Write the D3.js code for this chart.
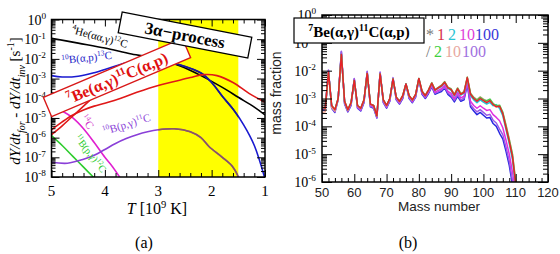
<!DOCTYPE html>
<html lang="en">
<head>
<meta charset="UTF-8">
<title>Reaction rates and mass fractions</title>
<script src="https://d3js.org/d3.v7.min.js"></script>
<style>
  body { margin: 0; background: #fff; }
  svg { display: block; }
</style>
</head>
<body>
<svg width="560" height="254"></svg>
<script>
const serif = "'Liberation Serif', 'Times New Roman', serif";
const sans = "'Liberation Sans', Arial, sans-serif";

// ---------- panel (a): dY/dt vs temperature (log10 of rate) ----------
const tBlack = [5, 4.5, 4, 3.5, 3, 2.6, 2.2, 1.8, 1.5, 1.2, 1.0];
const rBlack = [-0.95, -1.2, -1.45, -1.75, -2.0, -2.35, -2.85, -3.45, -3.95, -4.45, -4.85];
const tBlue = [5, 4.8, 4.5, 4.2, 3.9, 3.6, 3.3, 3.0, 2.6, 2.2, 2.0, 1.8, 1.6, 1.4, 1.2, 1.0];
const rBlue = [-2.85, -2.92, -2.88, -2.7, -2.45, -2.2, -1.97, -2.05, -2.3, -2.72, -3.2, -3.9, -4.55, -5.35, -6.4, -8.1];
const tRed = [5, 4.8, 4.6, 4.4, 4.2, 4.0, 3.7, 3.4, 3.0, 2.7, 2.4, 2.15, 1.9, 1.6, 1.3, 1.0];
const rRed = [-5.6, -5.2, -4.85, -4.6, -4.4, -4.25, -4.0, -3.7, -3.35, -3.15, -2.95, -2.8, -2.85, -3.2, -3.75, -4.2];
const tRed2 = [5, 4.8, 4.6, 4.4, 4.2, 4.0, 3.8];
const rRed2 = [-5.85, -5.4, -4.9, -4.4, -3.9, -3.4, -2.9];
const tMagenta = [5, 4.8, 4.6, 4.4, 4.2, 4.0, 3.85, 3.7];
const rMagenta = [-4.4, -4.65, -5.0, -5.55, -6.25, -7.0, -7.5, -8.1];
const tPurple = [5, 4.7, 4.4, 4.2, 4.0, 3.8, 3.6, 3.4, 3.2, 3.0, 2.7, 2.4, 2.2, 2.05, 1.8, 1.6, 1.48];
const rPurple = [-7.25, -7.3, -7.1, -6.9, -6.6, -6.3, -6.05, -5.85, -5.7, -5.6, -5.55, -5.7, -6.0, -6.45, -7.0, -7.5, -8.1];
const tGreen = [5, 4.8, 4.6, 4.4, 4.2];
const rGreen = [-5.9, -6.4, -6.95, -7.5, -8.05];
const tempTicks = [5, 4, 3, 2, 1];
const decadesA = [0, -1, -2, -3, -4, -5, -6, -7, -8];

// ---------- panel (b): mass fraction vs mass number (log10) ----------
const massNumbers = [50, 51, 52, 53, 54, 55, 56, 57, 58, 59, 60, 61, 62, 63, 64, 65, 66, 67, 68, 69,
  70, 71, 72, 73, 74, 75, 76, 77, 78, 79, 80, 81, 82, 83, 84, 85, 86, 87, 88, 89,
  90, 91, 92, 93, 94, 95, 96, 97, 98, 99, 100, 101, 102, 103, 104, 105, 106, 107, 108, 109, 110];
const xTimes1 = [-3.30, -3.35, -2.05, -3.25, -3.40, -3.00, -1.42, -3.10, -3.40, -3.15, -2.35, -3.25, -3.35, -3.05, -2.10, -3.20, -3.25, -3.62, -2.12, -3.05,
  -3.25, -3.00, -2.30, -2.95, -3.10, -2.90, -2.48, -2.90, -3.05, -2.85, -2.28, -2.75, -2.90, -2.70, -2.45, -2.70, -2.62, -2.55, -2.42, -2.62,
  -2.68, -2.88, -2.65, -2.85, -2.78, -2.25, -2.85, -3.00, -3.10, -3.00, -3.08, -3.15, -3.08, -3.22, -3.30, -3.28, -3.55, -4.05, -4.55, -5.10, -6.10];
const xTimes2 = [-3.32, -3.36, -2.05, -3.27, -3.41, -3.00, -1.41, -3.11, -3.41, -3.16, -2.35, -3.26, -3.36, -3.06, -2.10, -3.21, -3.26, -3.63, -2.12, -3.06,
  -3.26, -3.01, -2.30, -2.96, -3.11, -2.91, -2.48, -2.91, -3.06, -2.86, -2.28, -2.76, -2.91, -2.71, -2.46, -2.71, -2.64, -2.57, -2.44, -2.64,
  -2.71, -2.91, -2.68, -2.88, -2.81, -2.27, -2.90, -3.05, -3.15, -3.05, -3.13, -3.20, -3.14, -3.26, -3.22, -3.36, -3.62, -4.12, -4.63, -5.20, -6.20];
const xTimes10 = [-3.35, -3.38, -2.03, -3.30, -3.45, -3.02, -1.38, -3.15, -3.44, -3.20, -2.33, -3.30, -3.40, -3.10, -2.08, -3.25, -3.30, -3.66, -2.10, -3.10,
  -3.30, -3.05, -2.29, -3.00, -3.15, -2.95, -2.49, -2.95, -3.10, -2.90, -2.30, -2.80, -2.95, -2.76, -2.52, -2.78, -2.71, -2.65, -2.52, -2.74,
  -2.82, -3.00, -2.78, -2.98, -2.92, -2.38, -3.10, -3.25, -3.35, -3.26, -3.35, -3.43, -3.40, -3.58, -3.68, -3.80, -4.05, -4.50, -5.00, -5.65, -6.40];
const xTimes100 = [-3.40, -3.42, -2.00, -3.35, -3.50, -3.05, -1.32, -3.20, -3.48, -3.25, -2.30, -3.35, -3.45, -3.15, -2.05, -3.30, -3.35, -3.70, -2.08, -3.15,
  -3.35, -3.10, -2.28, -3.05, -3.20, -3.00, -2.50, -3.00, -3.15, -2.95, -2.32, -2.85, -3.00, -2.82, -2.58, -2.85, -2.80, -2.75, -2.62, -2.85,
  -2.95, -3.12, -2.92, -3.10, -3.05, -2.50, -3.30, -3.45, -3.58, -3.50, -3.60, -3.70, -3.68, -3.90, -4.00, -4.25, -4.45, -4.90, -5.40, -6.10, -6.60];
const xOver2 = [-3.31, -3.35, -2.05, -3.25, -3.40, -3.00, -1.42, -3.10, -3.40, -3.15, -2.35, -3.25, -3.35, -3.05, -2.10, -3.20, -3.25, -3.62, -2.12, -3.05,
  -3.25, -3.00, -2.30, -2.95, -3.10, -2.90, -2.48, -2.90, -3.05, -2.85, -2.28, -2.74, -2.89, -2.69, -2.44, -2.69, -2.61, -2.53, -2.40, -2.60,
  -2.66, -2.86, -2.63, -2.83, -2.76, -2.24, -2.82, -2.97, -3.06, -2.96, -3.04, -3.08, -3.02, -3.18, -3.26, -3.24, -3.50, -3.98, -4.48, -5.02, -6.00];
const xOver10 = [-3.50, -3.48, -2.10, -3.32, -3.45, -3.02, -1.45, -3.12, -3.42, -3.17, -2.36, -3.27, -3.36, -3.06, -2.11, -3.21, -3.26, -3.63, -2.13, -3.06,
  -3.26, -3.01, -2.31, -2.96, -3.11, -2.91, -2.49, -2.91, -3.06, -2.86, -2.29, -2.74, -2.88, -2.68, -2.43, -2.68, -2.60, -2.52, -2.39, -2.59,
  -2.65, -2.85, -2.62, -2.82, -2.75, -2.23, -2.81, -2.95, -3.04, -2.94, -3.02, -3.10, -3.05, -3.20, -3.30, -3.26, -3.50, -3.95, -4.45, -5.00, -5.95];
const xOver100 = [-3.38, -3.40, -1.98, -3.33, -3.48, -3.03, -1.30, -3.18, -3.46, -3.23, -2.28, -3.33, -3.43, -3.13, -2.02, -3.28, -3.33, -3.68, -2.05, -3.13,
  -3.33, -3.08, -2.25, -3.03, -3.18, -2.98, -2.47, -2.98, -3.13, -2.93, -2.29, -2.82, -2.97, -2.79, -2.55, -2.81, -2.76, -2.70, -2.58, -2.80,
  -2.90, -3.07, -2.87, -3.05, -2.99, -2.44, -3.22, -3.37, -3.48, -3.40, -3.50, -3.60, -3.57, -3.78, -3.88, -4.10, -4.30, -4.75, -5.25, -5.95, -6.50];
const massTicks = [50, 60, 70, 80, 90, 100, 110, 120];
const decadesB = [0, -1, -2, -3, -4, -5, -6];

const svg = d3.select("svg");

// text with super/subscripts: parts = [[string, "sup"|"sub"|"", "i"?], ...]
function rich(sel, parts, size) {
  let cur = 0;
  parts.forEach(([s, kind, style]) => {
    const off = kind === "sup" ? -0.4 * size : kind === "sub" ? 0.3 * size : 0;
    sel.append("tspan")
      .attr("dy", off - cur)
      .attr("font-size", kind ? size * 0.66 : size)
      .attr("font-style", style === "i" ? "italic" : null)
      .text(s);
    cur = off;
  });
  return sel;
}

function tickAxis(g, axis, transform) {
  g.append("g").attr("transform", transform).call(axis)
    .call(a => a.select(".domain").remove())
    .call(a => a.selectAll("line").attr("stroke", "#000").attr("stroke-width", 1));
}

// ================= panel (a) =================
const xA = d3.scaleLinear().domain([5, 1]).range([51.5, 265]);
const yA = d3.scaleLog().domain([1e-8, 1]).range([177, 19.5]);
const gA = svg.append("g");

const defs = svg.append("defs");
defs.append("clipPath").attr("id", "clipA").append("rect")
  .attr("x", xA(5)).attr("y", yA(1)).attr("width", xA(1) - xA(5)).attr("height", yA(1e-8) - yA(1));
defs.append("clipPath").attr("id", "clipYellow").append("rect")
  .attr("x", xA(3)).attr("y", yA(1)).attr("width", xA(1.5) - xA(3)).attr("height", yA(1e-8) - yA(1));
defs.append("clipPath").attr("id", "clipB").append("rect")
  .attr("x", 322).attr("y", 15).attr("width", 226).attr("height", 167);

gA.append("rect")
  .attr("x", xA(3)).attr("y", yA(1))
  .attr("width", xA(1.5) - xA(3)).attr("height", yA(1e-8) - yA(1))
  .attr("fill", "#ffff00");

const lineA = d3.line()
  .x(d => xA(d[0]))
  .y(d => yA(Math.pow(10, d[1])))
  .curve(d3.curveCatmullRom.alpha(0.5));

const curvesA = [
  { t: tGreen, r: rGreen, color: "#2ecc2e" },
  { t: tMagenta, r: rMagenta, color: "#e020d0" },
  { t: tPurple, r: rPurple, color: "#8a3fd8", inYellow: "#8c5a5a" },
  { t: tRed2, r: rRed2, color: "#e01818" },
  { t: tBlack, r: rBlack, color: "#000" },
  { t: tBlue, r: rBlue, color: "#1a1ad0", inYellow: "#1a1a90" },
  { t: tRed, r: rRed, color: "#e01818" }
];
const plotA = gA.append("g").attr("clip-path", "url(#clipA)");
curvesA.forEach(c => {
  const pts = d3.zip(c.t, c.r);
  plotA.append("path").attr("d", lineA(pts))
    .attr("fill", "none").attr("stroke", c.color).attr("stroke-width", 1.6);
  if (c.inYellow) {
    plotA.append("g").attr("clip-path", "url(#clipYellow)")
      .append("path").attr("d", lineA(pts))
      .attr("fill", "none").attr("stroke", c.inYellow).attr("stroke-width", 1.6);
  }
});

// curve labels
rich(gA.append("text").attr("transform", "translate(71,33) rotate(15)")
  .attr("font-family", serif).attr("fill", "#000"),
  [["4", "sup"], ["He(αα,γ)", ""], ["12", "sup"], ["C", ""]], 11);
rich(gA.append("text").attr("transform", "translate(62,64) rotate(-6)")
  .attr("font-family", serif).attr("fill", "#2424c8"),
  [["10", "sup"], ["B(α,p)", ""], ["13", "sup"], ["C", ""]], 11);
rich(gA.append("text").attr("transform", "translate(104,135) rotate(-17)")
  .attr("font-family", serif).attr("fill", "#8a3fd8"),
  [["10", "sup"], ["B(p,γ)", ""], ["11", "sup"], ["C", ""]], 11);
rich(gA.append("text").attr("transform", "translate(80,118) rotate(55)")
  .attr("font-family", serif).attr("fill", "#d030c8"),
  [["14", "sup"], ["C", ""]], 11);
rich(gA.append("text").attr("transform", "translate(74,138) rotate(52)")
  .attr("font-family", serif).attr("fill", "#2ecc2e"),
  [["11", "sup"], ["B(p,γ)", ""], ["12", "sup"], ["C", ""]], 10);

// frame and ticks
gA.append("rect").attr("x", xA(5)).attr("y", yA(1))
  .attr("width", xA(1) - xA(5)).attr("height", yA(1e-8) - yA(1))
  .attr("fill", "none").attr("stroke", "#000").attr("stroke-width", 1.5);
const tempMinor = d3.range(1, 5.001, 0.2).filter(v => Math.abs(v - Math.round(v)) > 0.01);
tickAxis(gA, d3.axisBottom(xA).tickValues(tempTicks).tickSize(-7).tickFormat(""), `translate(0,${yA(1e-8)})`);
tickAxis(gA, d3.axisBottom(xA).tickValues(tempMinor).tickSize(-4).tickFormat(""), `translate(0,${yA(1e-8)})`);
tickAxis(gA, d3.axisTop(xA).tickValues(tempTicks).tickSize(-7).tickFormat(""), `translate(0,${yA(1)})`);
tickAxis(gA, d3.axisTop(xA).tickValues(tempMinor).tickSize(-4).tickFormat(""), `translate(0,${yA(1)})`);
const minorA = yA.ticks().filter(v => Math.abs(Math.log10(v) - Math.round(Math.log10(v))) > 1e-6);
const majorA = decadesA.map(k => Math.pow(10, k));
tickAxis(gA, d3.axisLeft(yA).tickValues(majorA).tickSize(-8).tickFormat(""), `translate(${xA(5)},0)`);
tickAxis(gA, d3.axisLeft(yA).tickValues(minorA).tickSize(-4).tickFormat(""), `translate(${xA(5)},0)`);
tickAxis(gA, d3.axisRight(yA).tickValues(majorA).tickSize(-8).tickFormat(""), `translate(${xA(1)},0)`);
tickAxis(gA, d3.axisRight(yA).tickValues(minorA).tickSize(-4).tickFormat(""), `translate(${xA(1)},0)`);

gA.selectAll(".tlab").data(tempTicks).join("text")
  .attr("x", d => xA(d)).attr("y", 196)
  .attr("text-anchor", "middle").attr("font-family", serif).attr("font-size", 15)
  .text(d => d);
decadesA.forEach(k => {
  rich(gA.append("text").attr("x", 46).attr("y", yA(Math.pow(10, k)) + 5)
    .attr("text-anchor", "end").attr("font-family", serif),
    [["10", ""], [String(k), "sup"]], 14);
});

// axis titles
rich(gA.append("text").attr("x", 157).attr("y", 214).attr("text-anchor", "middle")
  .attr("font-family", serif),
  [["T", "", "i"], [" [10", ""], ["9", "sup"], [" K]", ""]], 16);
rich(gA.append("text").attr("transform", "translate(20,101) rotate(-90)")
  .attr("text-anchor", "middle").attr("font-family", serif),
  [["dY/dt", "", "i"], ["for", "sub", "i"], [" - dY/dt", "", "i"], ["inv", "sub", "i"], [" [s", ""], ["-1", "sup"], ["]", ""]], 15);
gA.append("text").attr("x", 144).attr("y", 248).attr("text-anchor", "middle")
  .attr("font-family", serif).attr("font-size", 16).text("(a)");

// annotation boxes
const boxRed = gA.append("g").attr("transform", "translate(117,77.5) rotate(-23)");
boxRed.append("rect").attr("x", -75.5).attr("y", -10.5).attr("width", 151).attr("height", 21)
  .attr("fill", "#fff").attr("stroke", "#d81818").attr("stroke-width", 1.4);
rich(boxRed.append("text").attr("text-anchor", "middle").attr("y", 6)
  .attr("font-family", serif).attr("font-weight", "bold").attr("fill", "#e01010"),
  [["7", "sup"], ["Be(α,γ)", ""], ["11", "sup"], ["C(α,p)", ""]], 16);

const box3a = gA.append("g").attr("transform", "translate(185,35) rotate(11)");
box3a.append("rect").attr("x", -66).attr("y", -10.5).attr("width", 132).attr("height", 21)
  .attr("fill", "#fff").attr("stroke", "#000").attr("stroke-width", 1.3);
box3a.append("text").attr("text-anchor", "middle").attr("y", 6)
  .attr("font-family", serif).attr("font-weight", "bold").attr("font-size", 17)
  .text("3α−process");

// ================= panel (b) =================
const xB = d3.scaleLinear().domain([50, 120]).range([322, 548]);
const yB = d3.scaleLog().domain([1e-6, 1]).range([182, 15]);
const gB = svg.append("g");

const lineB = d3.line()
  .x(d => xB(d[0]))
  .y(d => yB(Math.pow(10, d[1])));

const seriesB = [
  { v: xTimes100, color: "#2828e0" },
  { v: xOver100, color: "#9a5ae6" },
  { v: xTimes10, color: "#e030e0" },
  { v: xTimes2, color: "#20c8d8" },
  { v: xOver10, color: "#e8a090" },
  { v: xOver2, color: "#4cc84c" },
  { v: xTimes1, color: "#e8202a" }
];
const plotB = gB.append("g").attr("clip-path", "url(#clipB)");
seriesB.forEach(s => {
  plotB.append("path").attr("d", lineB(d3.zip(massNumbers, s.v)))
    .attr("fill", "none").attr("stroke", s.color).attr("stroke-width", 1.5)
    .attr("stroke-linejoin", "round");
});

gB.append("rect").attr("x", 322).attr("y", 15).attr("width", 226).attr("height", 167)
  .attr("fill", "none").attr("stroke", "#000").attr("stroke-width", 1.5);
const massMinor = d3.range(52, 120, 2).filter(v => v % 10 !== 0);
tickAxis(gB, d3.axisBottom(xB).tickValues(massTicks).tickSize(-8).tickFormat(""), "translate(0,182)");
tickAxis(gB, d3.axisBottom(xB).tickValues(massMinor).tickSize(-4).tickFormat(""), "translate(0,182)");
tickAxis(gB, d3.axisTop(xB).tickValues(massTicks).tickSize(-8).tickFormat(""), "translate(0,15)");
tickAxis(gB, d3.axisTop(xB).tickValues(massMinor).tickSize(-4).tickFormat(""), "translate(0,15)");
const minorB = yB.ticks().filter(v => Math.abs(Math.log10(v) - Math.round(Math.log10(v))) > 1e-6);
const majorB = decadesB.map(k => Math.pow(10, k));
tickAxis(gB, d3.axisLeft(yB).tickValues(majorB).tickSize(-10).tickFormat(""), "translate(322,0)");
tickAxis(gB, d3.axisLeft(yB).tickValues(minorB).tickSize(-5).tickFormat(""), "translate(322,0)");
tickAxis(gB, d3.axisRight(yB).tickValues(majorB).tickSize(-10).tickFormat(""), "translate(548,0)");
tickAxis(gB, d3.axisRight(yB).tickValues(minorB).tickSize(-5).tickFormat(""), "translate(548,0)");

gB.selectAll(".mlab").data(massTicks).join("text")
  .attr("x", d => xB(d)).attr("y", 197)
  .attr("text-anchor", "middle").attr("font-family", sans).attr("font-size", 13)
  .attr("fill", "#222").text(d => d);
decadesB.forEach(k => {
  rich(gB.append("text").attr("x", 316).attr("y", yB(Math.pow(10, k)) + 5)
    .attr("text-anchor", "end").attr("font-family", serif),
    [["10", ""], [String(k), "sup"]], 14);
});
gB.append("text").attr("x", 439).attr("y", 211).attr("text-anchor", "middle")
  .attr("font-family", sans).attr("font-size", 13.5).attr("fill", "#222").text("Mass number");
gB.append("text").attr("transform", "translate(281,93) rotate(-90)").attr("text-anchor", "middle")
  .attr("font-family", sans).attr("font-size", 14).attr("fill", "#222").text("mass fraction");
gB.append("text").attr("x", 408).attr("y", 248).attr("text-anchor", "middle")
  .attr("font-family", serif).attr("font-size", 16).text("(b)");

// label box
gB.append("rect").attr("x", 294).attr("y", 18).attr("width", 130).attr("height", 25)
  .attr("fill", "#fff").attr("stroke", "#000").attr("stroke-width", 1.2);
rich(gB.append("text").attr("x", 359).attr("y", 37).attr("text-anchor", "middle")
  .attr("font-family", serif).attr("font-weight", "bold"),
  [["7", "sup"], ["Be(α,γ)", ""], ["11", "sup"], ["C(α,p)", ""]], 15);

// legend of rate factors
const legendRows = [
  { y: 40, items: [["*", 426, "#777"], ["1", 437, "#d8304c"], ["2", 448, "#28c4d4"], ["10", 459, "#e040d8"], ["100", 475, "#3838d8"]] },
  { y: 57, items: [["/", 426, "#777"], ["2", 434, "#40d040"], ["10", 445, "#e8a8a0"], ["100", 462, "#a070e0"]] }
];
legendRows.forEach(row => {
  gB.selectAll(null).data(row.items).join("text")
    .attr("x", d => d[1]).attr("y", row.y)
    .attr("font-family", serif).attr("font-size", 16)
    .attr("fill", d => d[2]).text(d => d[0]);
});
</script>
</body>
</html>
